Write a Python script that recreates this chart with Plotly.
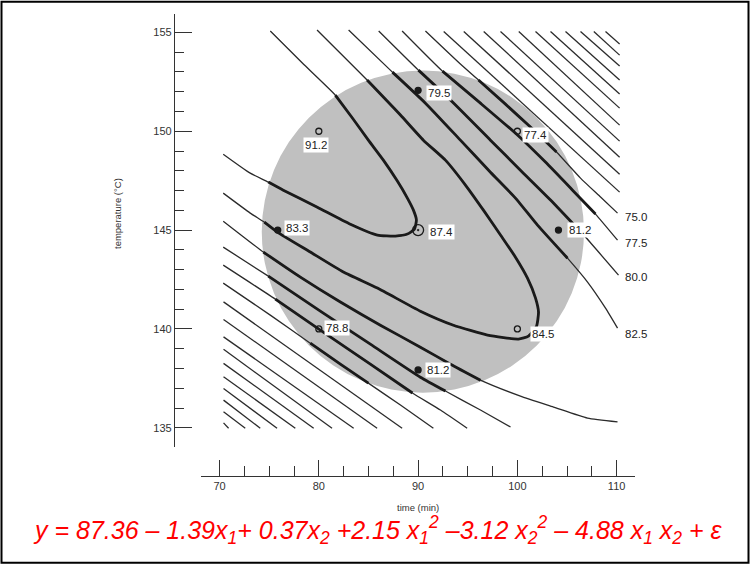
import plotly.graph_objects as go

# ---------------- data (time in min, temperature in degC) ----------------
x_ticks = [70, 80, 90, 100, 110]
y_ticks = [135, 140, 145, 150, 155]

# experimental design points and observed yields
pt_time = [80, 90, 100, 75.86, 90, 104.14, 80, 100, 90]
pt_temp = [150, 152.07, 150, 145, 145, 145, 140, 140, 137.93]
pt_text = ["91.2", "79.5", "77.4", "83.3", "87.4", "81.2", "78.8", "84.5", "81.2"]
pt_kind = ["open", "filled", "open", "filled", "center", "filled", "open", "open", "filled"]
lab_time = [79.74, 90.84, 100.44, 76.52, 91.04, 104.95, 80.55, 101.32, 90.74]
lab_temp = [149.30, 151.93, 149.81, 145.10, 144.90, 145.00, 140.04, 139.74, 137.92]

# experimental region (grey disc): time and temperature extents
region_time = [74.25, 106.71]
region_temp = [136.78, 153.07]

# contour 87.5
c875_time = [75.11, 78.34, 81.66, 83.38, 84.99, 86.50, 87.91, 88.92, 89.53, 89.83, 89.63, 88.92,
             87.71, 85.90, 83.18, 79.85, 76.42, 74.91, 73.09, 70.37]
c875_temp = [155.07, 153.45, 151.83, 150.67, 149.55, 148.54, 147.48, 146.62, 146.01, 145.51, 145.05,
             144.80, 144.70, 144.75, 145.30, 146.16, 147.02, 147.43, 147.88, 148.84]
# contour 85.0
c850_time = [79.82, 84.86, 88.22, 90.53, 92.75, 94.77, 96.58, 98.30, 99.81, 101.02, 101.83, 102.13,
             101.93, 101.12, 100.11, 96.99, 93.56, 90.23, 85.90, 82.47, 79.14, 75.82, 74.51, 73.09, 70.37]
c850_temp = [155.12, 152.59, 150.82, 149.55, 148.54, 147.28, 146.01, 144.75, 143.63, 142.57, 141.56,
             140.85, 140.14, 139.64, 139.49, 139.69, 140.19, 140.90, 142.07, 142.88, 143.89, 144.90,
             145.40, 145.86, 146.87]
# contour 82.5 (upper and lower branch)
c825u_time = [83.00, 87.41, 90.74, 94.26, 97.29, 99.81, 102.03, 105.05, 107.07, 108.88, 110.09]
c825u_temp = [155.12, 152.99, 151.42, 149.55, 147.93, 146.62, 145.25, 143.58, 142.37, 141.05, 140.04]
c825l_time = [70.37, 74.41, 78.14, 82.17, 86.20, 90.23, 93.26, 96.28, 100.31, 103.64, 107.07, 110.09]
c825l_temp = [145.45, 143.89, 142.62, 141.36, 140.19, 139.08, 138.22, 137.41, 136.60, 136.05, 135.49, 135.30]
# contour 80.0
c800u_time = [86.03, 90.03, 93.26, 97.29, 100.31, 103.34, 106.77, 110.19]
c800u_temp = [155.07, 153.09, 151.58, 149.55, 148.03, 146.52, 144.70, 142.72]
c800l_time = [70.37, 74.91, 80.15, 85.19, 90.23, 92.75, 96.28, 99.31]
c800l_temp = [144.14, 142.67, 140.90, 139.23, 137.56, 136.86, 135.90, 135.04]
# contour 77.5
c775u_time = [88.39, 92.45, 96.28, 100.01, 102.83, 105.56, 107.87, 110.09]
c775u_temp = [155.07, 153.04, 151.42, 149.81, 148.44, 147.02, 145.81, 144.49]
c775l_time = [70.37, 75.62, 80.15, 85.19, 89.43, 92.25, 94.94]
c775l_temp = [143.23, 141.51, 139.94, 138.22, 136.76, 135.90, 134.98]
# contour 75.0
c750u_time = [90.74, 94.26, 96.08, 98.80, 101.32, 103.94, 106.36, 108.38, 110.09]
c750u_temp = [155.07, 153.40, 152.59, 151.37, 150.21, 148.95, 147.63, 146.67, 145.86]
c750l_time = [70.37, 75.11, 79.14, 82.17, 84.99, 88.22, 91.54]
c750l_temp = [142.32, 140.70, 139.28, 138.22, 137.26, 136.15, 134.98]

# index ranges of each contour lying inside the grey region
c875_in = (2, 17)
c850_in = (1, 22)
c825u_in = (1, 7)
c825l_in = (1, 7)
c800u_in = (1, 6)
c800l_in = (1, 5)
c775u_in = (1, 6)
c775l_in = (1, 4)
c750u_in = (2, 5)
c750l_in = (2, 4)

contour_labels = ["75.0", "77.5", "80.0", "82.5"]
contour_label_time = [110.6, 110.6, 110.6, 110.6]
contour_label_temp = [145.67, 144.33, 142.64, 139.77]

# outer contour hatching, upper right: start time on top edge, end temperature on right edge
hatch_up_top_temp = 155.05
hatch_up_right_time = 110.30
hatch_up_start_time = [92.58, 94.60, 96.61, 98.30, 100.14, 101.83, 103.34, 104.85, 106.36, 107.70, 108.88]
hatch_up_end_temp = [146.92, 147.83, 148.69, 149.50, 150.31, 151.17, 151.88, 152.59, 153.30, 153.85, 154.41]

# outer contour hatching, lower left: start temperature on left edge, end time on bottom edge
hatch_lo_left_time = 70.40
hatch_lo_bottom_temp = 134.98
hatch_lo_start_temp = [141.37, 140.48, 139.60, 138.97, 138.26, 137.58, 136.99, 136.40, 135.81, 135.25]
hatch_lo_end_time = [88.39, 85.87, 83.51, 81.33, 79.48, 77.63, 75.79, 74.10, 72.59, 70.91]

equation = ("<i>y = 87.36 – 1.39x<sub>1</sub>+ 0.37x<sub>2</sub> +2.15 x<sub>1</sub><sup>2</sup> "
            "–3.12 x<sub>2</sub><sup>2</sup> – 4.88 x<sub>1</sub> x<sub>2</sub> + ε</i>")

# ---------------- figure ----------------
W, H = 750, 565
THIN = dict(color="#2b2b2b", width=1.3, shape="spline", smoothing=0.5)
THICK = dict(color="#1a1a1a", width=2.8, shape="spline", smoothing=0.5)
LABEL_FONT = dict(family="Liberation Sans, Arial, sans-serif", size=11.5, color="#222222")

fig = go.Figure()

# grey experimental region
fig.add_shape(type="circle", xref="x", yref="y",
              x0=region_time[0], x1=region_time[1], y0=region_temp[0], y1=region_temp[1],
              fillcolor="#c0c0c0", line=dict(width=0), layer="below")

contours = [
    (c875_time, c875_temp, c875_in), (c850_time, c850_temp, c850_in),
    (c825u_time, c825u_temp, c825u_in), (c825l_time, c825l_temp, c825l_in),
    (c800u_time, c800u_temp, c800u_in), (c800l_time, c800l_temp, c800l_in),
    (c775u_time, c775u_temp, c775u_in), (c775l_time, c775l_temp, c775l_in),
    (c750u_time, c750u_temp, c750u_in), (c750l_time, c750l_temp, c750l_in),
]
for ct, cT, (i0, i1) in contours:
    fig.add_trace(go.Scatter(x=ct, y=cT, mode="lines", line=THIN, hoverinfo="skip"))
    fig.add_trace(go.Scatter(x=ct[i0:i1 + 1], y=cT[i0:i1 + 1], mode="lines", line=THICK,
                             hoverinfo="skip"))

# hatching
hx, hy = [], []
for st, eT in zip(hatch_up_start_time, hatch_up_end_temp):
    hx += [st, hatch_up_right_time, None]
    hy += [hatch_up_top_temp, eT, None]
for sT, et in zip(hatch_lo_start_temp, hatch_lo_end_time):
    hx += [hatch_lo_left_time, et, None]
    hy += [sT, hatch_lo_bottom_temp, None]
fig.add_trace(go.Scatter(x=hx, y=hy, mode="lines", line=dict(color="#2b2b2b", width=1.3),
                         hoverinfo="skip"))

# design points
sym = {"open": "circle-open", "filled": "circle", "center": "circle-open-dot"}
siz = {"open": 6, "filled": 6, "center": 11}
for kind in ["open", "filled", "center"]:
    xs = [t for t, k in zip(pt_time, pt_kind) if k == kind]
    ys = [T for T, k in zip(pt_temp, pt_kind) if k == kind]
    fig.add_trace(go.Scatter(x=xs, y=ys, mode="markers", cliponaxis=False,
                             marker=dict(symbol=sym[kind], size=siz[kind], color="#1a1a1a",
                                         line=dict(color="#1a1a1a", width=1.3)),
                             hoverinfo="skip"))

for i, (t, T, s) in enumerate(zip(lab_time, lab_temp, pt_text)):
    fig.add_annotation(x=t, y=T, xref="x", yref="y", text=s, showarrow=False,
                       xanchor="center" if i == 0 else "left", yanchor="middle",
                       bgcolor="white", borderpad=1, font=LABEL_FONT)

for t, T, s in zip(contour_label_time, contour_label_temp, contour_labels):
    fig.add_annotation(x=t, y=T, xref="x", yref="y", text=s, showarrow=False,
                       xanchor="left", yanchor="middle", font=LABEL_FONT)

# axis titles and equation
fig.add_annotation(x=418 / W, y=1 - 507 / H, xref="paper", yref="paper", text="time (min)",
                   xanchor="center", yanchor="middle", showarrow=False,
                   font=dict(family="Liberation Sans, Arial", size=9.5, color="#333"))
fig.add_annotation(x=118 / W, y=1 - 214 / H, xref="paper", yref="paper", text="temperature (°C)",
                   xanchor="center", yanchor="middle", textangle=-90, showarrow=False,
                   font=dict(family="Liberation Sans, Arial", size=9.5, color="#333"))
fig.add_annotation(x=378 / W, y=1 - 530 / H, xref="paper", yref="paper", text=equation,
                   xanchor="center", yanchor="middle", showarrow=False,
                   font=dict(family="Liberation Sans, Arial", size=25, color="#ff0000"))

# frame
fig.add_shape(type="rect", xref="paper", yref="paper", x0=0.002, x1=0.998, y0=0.004, y1=0.997,
              line=dict(color="black", width=2))

axis_common = dict(showgrid=False, zeroline=False, showline=True, linecolor="#333", linewidth=1.3,
                   ticks="inside", tickcolor="#333", tickwidth=1.3,
                   tickfont=dict(family="Liberation Sans, Arial", size=11, color="#333"))
fig.update_layout(
    width=W, height=H, margin=dict(l=0, r=0, t=0, b=0),
    paper_bgcolor="white", plot_bgcolor="white", showlegend=False,
    xaxis=dict(domain=[200.7 / W, 635 / W], range=[68.1, 111.85], anchor="free",
               position=1 - 475.7 / H, tickvals=x_ticks, ticklen=16,
               minor=dict(dtick=2.5, ticklen=10, ticks="inside", tickcolor="#333", tickwidth=1.3),
               **axis_common),
    yaxis=dict(domain=[1 - 447 / H, 1 - 14 / H], range=[134.03, 155.93], anchor="free",
               position=174 / W, tickvals=y_ticks, ticklen=17,
               minor=dict(dtick=1, ticklen=9, ticks="inside", tickcolor="#333", tickwidth=1.3),
               **axis_common),
)

fig.write_html("out.html")
